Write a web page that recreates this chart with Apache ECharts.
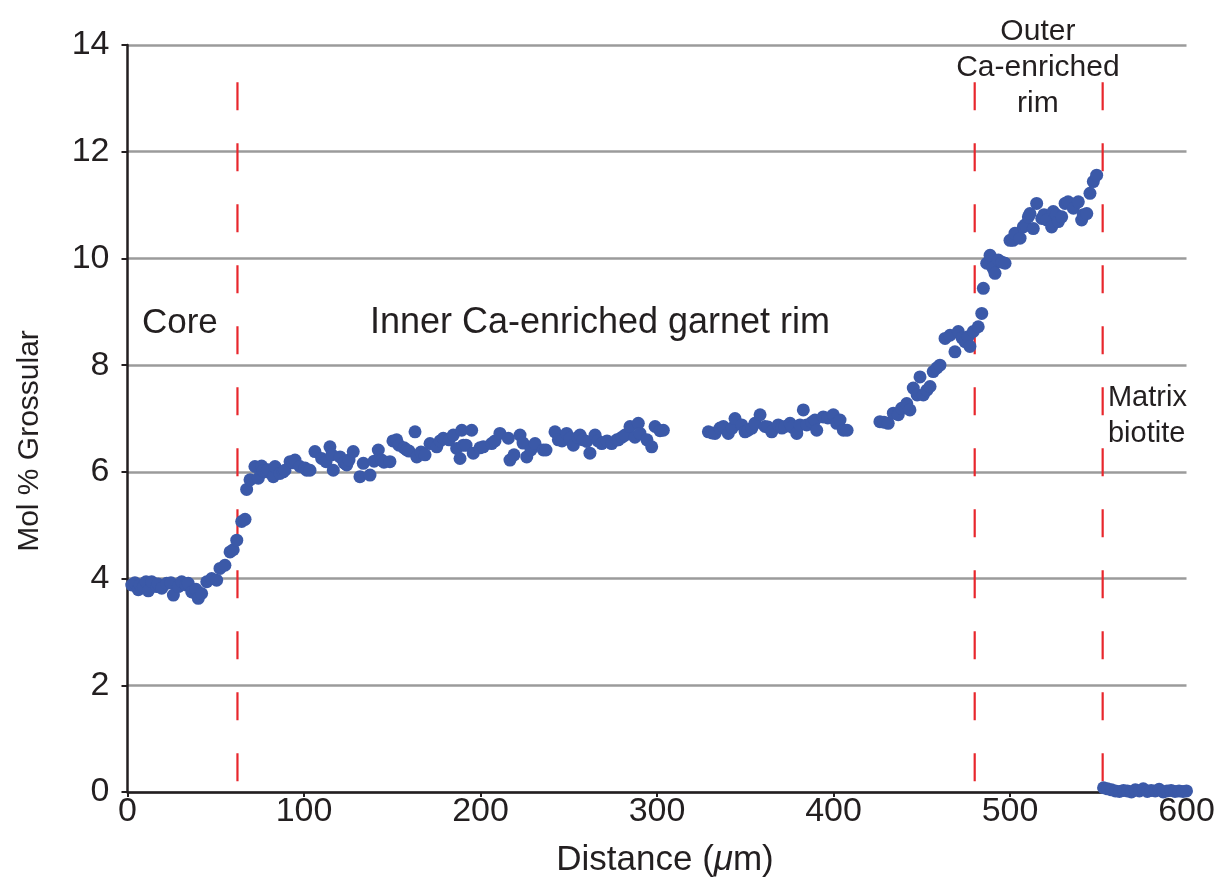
<!DOCTYPE html>
<html>
<head>
<meta charset="utf-8">
<title>Grossular profile</title>
<script src="https://cdn.jsdelivr.net/npm/echarts@6/dist/echarts.min.js"></script>
<style>
  html, body { margin: 0; padding: 0; background: #fff; }
  #chart { width: 1221px; height: 886px; }
</style>
</head>
<body>
<div id="chart"></div>
<script>
// Distance along the traverse (µm) and mol % grossular for each analysis
const coreDist = [2.4, 4.2, 6.1, 7.1, 9.0, 10.5, 11.8, 13.7, 16.5, 17.3, 19.4, 22.2, 24.6, 26.0, 28.8, 30.7, 33.1, 34.4, 36.4, 38.8, 40.1, 42.0, 44.9, 47.7, 50.5, 52.4, 55.2, 58.1, 59.9, 61.9, 64.7, 66.6];
const coreGrs  = [3.88, 3.92, 3.79, 3.88, 3.85, 3.94, 3.77, 3.94, 3.85, 3.90, 3.82, 3.91, 3.92, 3.69, 3.85, 3.94, 3.88, 3.91, 3.75, 3.80, 3.63, 3.72, 3.94, 4.00, 3.97, 4.19, 4.25, 4.50, 4.54, 4.72, 5.07, 5.11];

const innerDist = [67.5, 69.4, 72.2, 74.1, 76.0, 76.8, 78.9, 79.6, 82.6, 83.6, 86.4, 88.2, 89.2, 92.1, 93.8, 94.9, 97.7, 100.6, 101.5, 103.4, 106.2, 110.0, 112.5, 114.7, 115.7, 116.6, 120.4, 122.7, 124.2, 125.5, 127.9, 131.7, 133.6, 137.4, 139.7, 142.1, 144.0, 145.3, 148.7, 150.4, 152.5, 153.8, 156.7, 158.2, 159.5, 162.9, 163.9, 166.3, 168.6, 171.4, 175.2, 177.1, 178.9, 182.2, 184.6, 186.5, 188.4, 189.4, 190.3, 191.8, 195.0, 195.9, 199.7, 201.6, 206.3, 208.2, 211.0, 215.8, 216.7, 219.0, 222.4, 224.1, 226.2, 228.6, 230.9, 235.6, 237.1, 242.2, 244.1, 246.2, 248.8, 250.7, 252.6, 255.2, 256.4, 258.1, 260.2, 262.0, 264.9, 266.6, 268.7, 271.7, 274.3, 277.3, 278.1, 280.2, 281.9, 284.7, 287.5, 289.4, 290.4, 294.3, 297.0, 298.9, 301.7, 303.6];
const innerGrs  = [5.67, 5.85, 6.10, 5.88, 6.11, 6.02, 6.00, 6.04, 5.91, 6.10, 5.97, 6.00, 6.03, 6.19, 6.17, 6.22, 6.10, 6.07, 6.03, 6.03, 6.38, 6.25, 6.19, 6.47, 6.32, 6.03, 6.28, 6.17, 6.13, 6.22, 6.38, 5.91, 6.16, 5.94, 6.20, 6.41, 6.22, 6.18, 6.19, 6.58, 6.60, 6.50, 6.45, 6.41, 6.39, 6.75, 6.28, 6.37, 6.32, 6.53, 6.47, 6.58, 6.63, 6.60, 6.69, 6.44, 6.25, 6.78, 6.50, 6.50, 6.78, 6.35, 6.45, 6.47, 6.53, 6.58, 6.72, 6.63, 6.22, 6.32, 6.69, 6.54, 6.28, 6.41, 6.53, 6.41, 6.41, 6.75, 6.60, 6.58, 6.72, 6.63, 6.50, 6.65, 6.69, 6.60, 6.57, 6.35, 6.69, 6.58, 6.53, 6.58, 6.53, 6.60, 6.60, 6.65, 6.69, 6.85, 6.65, 6.91, 6.72, 6.60, 6.47, 6.85, 6.77, 6.78];

const midDist = [329.1, 331.2, 332.9, 335.7, 337.6, 340.4, 342.6, 344.2, 348.0, 349.9, 351.7, 353.8, 355.5, 358.4, 361.2, 362.9, 365.0, 368.7, 370.8, 372.5, 375.4, 376.5, 379.2, 381.0, 382.9, 384.8, 387.8, 389.5, 390.5, 394.2, 396.8, 399.9, 401.8, 403.7, 405.6, 407.7];
const midGrs  = [6.75, 6.73, 6.72, 6.82, 6.85, 6.72, 6.82, 7.00, 6.88, 6.75, 6.78, 6.82, 6.91, 7.07, 6.85, 6.84, 6.75, 6.88, 6.82, 6.85, 6.91, 6.84, 6.72, 6.88, 7.16, 6.88, 6.93, 6.97, 6.78, 7.03, 7.01, 7.07, 6.91, 6.97, 6.78, 6.78];

const outerDist = [426.3, 428.6, 431.0, 433.9, 436.7, 438.6, 441.5, 443.3, 445.2, 447.4, 449.0, 450.9, 452.9, 454.7, 456.5, 458.6, 460.3, 463.2, 466.0, 468.8, 470.7, 472.8, 474.5, 476.2, 477.3, 479.2, 482.0, 484.0, 484.9, 486.8, 488.7, 490.3, 491.5, 493.4, 495.5, 497.2, 500.0, 501.7, 502.8, 505.7, 507.5, 508.6, 510.4, 511.3, 513.2, 515.1, 518.0, 519.3, 520.8, 523.6, 524.5, 526.2, 527.4, 529.3, 531.2, 532.9, 535.9, 538.7, 540.6, 541.5, 543.5, 545.3, 547.2, 549.1];
const outerGrs  = [6.94, 6.93, 6.91, 7.10, 7.07, 7.19, 7.28, 7.16, 7.57, 7.44, 7.78, 7.44, 7.53, 7.60, 7.88, 7.95, 8.00, 8.50, 8.56, 8.25, 8.63, 8.51, 8.44, 8.53, 8.35, 8.63, 8.72, 8.97, 9.44, 9.91, 10.06, 9.82, 9.72, 9.97, 9.93, 9.91, 10.34, 10.34, 10.47, 10.38, 10.59, 10.63, 10.78, 10.84, 10.56, 11.03, 10.75, 10.82, 10.72, 10.59, 10.88, 10.82, 10.69, 10.78, 11.03, 11.06, 10.94, 11.06, 10.72, 10.82, 10.84, 11.22, 11.44, 11.56];

const matrixDist = [553.0, 555.2, 557.5, 559.7, 562.0, 564.3, 566.5, 568.8, 571.0, 573.3, 575.5, 577.8, 580.0, 582.3, 584.5, 586.8, 589.0, 591.3, 593.5, 595.8, 598.0, 600.0];
const matrixGrs  = [0.08, 0.06, 0.04, 0.02, 0.01, 0.03, 0.02, 0.00, 0.04, 0.02, 0.06, 0.01, 0.03, 0.02, 0.05, 0.00, 0.02, 0.03, 0.01, 0.02, 0.01, 0.02];

// Zone boundaries (µm) and the height the dashed markers reach
const boundaryDist = [62.3, 480.0, 552.5];
const boundaryTop = 13.3;

const xTicks = [0, 100, 200, 300, 400, 500, 600];
const yTicks = [0, 2, 4, 6, 8, 10, 12, 14];

const zip = (xs, ys) => xs.map((x, i) => [x, ys[i]]);
const points = [].concat(
  zip(coreDist, coreGrs), zip(innerDist, innerGrs), zip(midDist, midGrs),
  zip(outerDist, outerGrs), zip(matrixDist, matrixGrs)
);

const FONT = '"Liberation Sans", Arial, Helvetica, sans-serif';
const INK = '#231f20';
const chart = echarts.init(document.getElementById('chart'), null, { renderer: 'canvas' });

const boundarySeries = boundaryDist.map(d => ({
  type: 'line',
  data: [[d, boundaryTop], [d, 0]],
  symbol: 'none',
  silent: true,
  z: 1,
  lineStyle: { color: '#e8262c', width: 2.2, type: [28, 33] }
}));

chart.setOption({
  animation: false,
  grid: { left: 127.5, right: 34.5, top: 45, bottom: 94 },
  xAxis: {
    type: 'value',
    min: xTicks[0], max: xTicks[xTicks.length - 1], interval: 100,
    axisLine: { lineStyle: { color: INK, width: 2.5 } },
    axisTick: { show: true, length: 5, lineStyle: { color: INK, width: 2 } },
    axisLabel: { fontFamily: FONT, fontSize: 34, color: INK, margin: 3 },
    splitLine: { show: false }
  },
  yAxis: {
    type: 'value',
    min: yTicks[0], max: yTicks[yTicks.length - 1], interval: 2,
    axisLine: { show: true, lineStyle: { color: INK, width: 2.5 } },
    axisTick: { show: true, length: 6, lineStyle: { color: INK, width: 2 } },
    axisLabel: { fontFamily: FONT, fontSize: 34, color: INK, margin: 18 },
    splitLine: { show: true, lineStyle: { color: '#9b9b9b', width: 2.5 } }
  },
  series: boundarySeries.concat([{
    type: 'scatter',
    data: points,
    symbol: 'circle',
    symbolSize: 13,
    z: 3,
    itemStyle: { color: '#3b59a8', opacity: 1 }
  }])
});

// Zone labels anchored to data coordinates
const zoneLabels = [
  { at: [8.2, 9.13], text: 'Core', align: 'left', size: 35 },
  { at: [267.7, 9.13], text: 'Inner Ca-enriched garnet rim', align: 'center', size: 36 },
  { at: [515.8, 14.59], text: 'Outer\nCa-enriched\nrim', align: 'center', size: 30 },
  { at: [555.5, 7.72], text: 'Matrix\nbiotite', align: 'left', size: 29 }
];
const graphics = zoneLabels.map(l => {
  const p = chart.convertToPixel({ gridIndex: 0 }, l.at);
  return {
    type: 'text', x: p[0], y: p[1], z: 10, silent: true,
    style: {
      text: l.text, fill: INK, font: l.size + 'px ' + FONT,
      align: l.align, verticalAlign: 'top', lineHeight: 36
    }
  };
});

// Axis titles
graphics.push({
  type: 'text', x: 30, y: 441, rotation: Math.PI / 2, z: 10, silent: true,
  style: { text: 'Mol % Grossular', fill: INK, font: '30px ' + FONT, align: 'center', verticalAlign: 'middle' }
});
graphics.push({
  type: 'text', x: 665, y: 860, z: 10, silent: true,
  style: {
    text: '{n|Distance (}{i|μ}{n|m)}', align: 'center', verticalAlign: 'middle',
    rich: {
      n: { fontFamily: FONT, fontSize: 35, fill: INK },
      i: { fontFamily: FONT, fontSize: 35, fill: INK, fontStyle: 'italic' }
    }
  }
});
chart.setOption({ graphic: graphics });
</script>
</body>
</html>
